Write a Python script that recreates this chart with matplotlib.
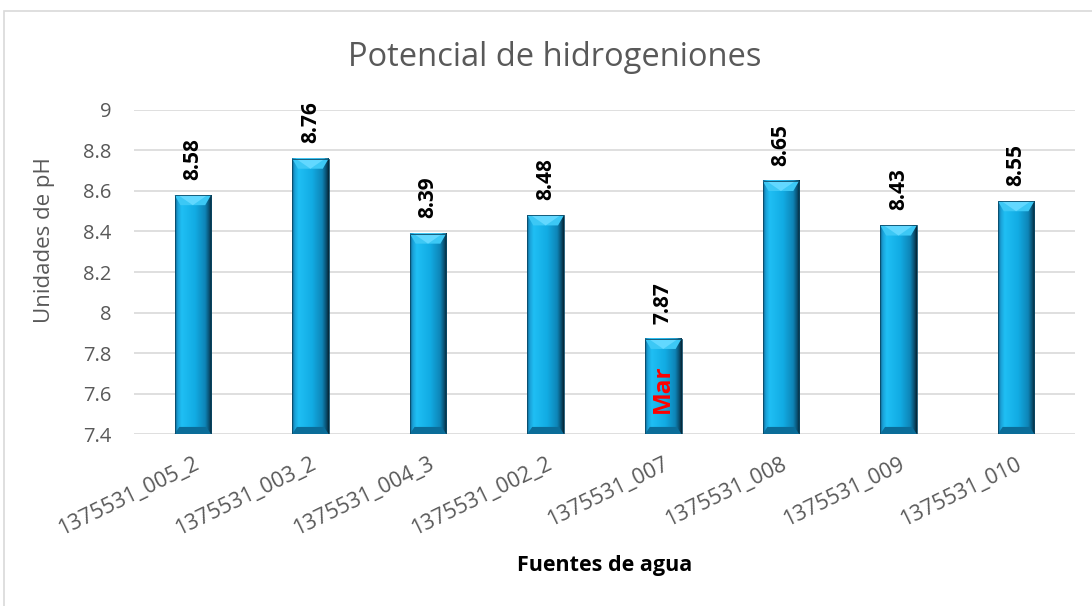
import numpy as np
import matplotlib.pyplot as plt
from matplotlib.colors import LinearSegmentedColormap
from matplotlib.patches import Rectangle, Polygon

# data
fuentes = ["1375531_005_2", "1375531_003_2", "1375531_004_3", "1375531_002_2",
           "1375531_007", "1375531_008", "1375531_009", "1375531_010"]
ph = [8.58, 8.76, 8.39, 8.48, 7.87, 8.65, 8.43, 8.55]
notas = {4: "Mar"}
nota_y = 7.625

y_min, y_max = 7.4, 9.0
y_ticks = [7.4, 7.6, 7.8, 8.0, 8.2, 8.4, 8.6, 8.8, 9.0]
y_tick_labels = ["7.4", "7.6", "7.8", "8", "8.2", "8.4", "8.6", "8.8", "9"]

GRAY = "#595959"
plt.rcParams['font.family'] = ['Open Sans', 'DejaVu Sans']

fig = plt.figure(figsize=(10.92, 6.06), dpi=100)
ax = fig.add_axes([0.1227, 0.2838, 0.8617, 0.5347])

# outer chart frame (cut off at right and bottom like the source)
fig.patches.append(Rectangle((3.5 / 1092, -0.1), 1.2, 1.1 - 10.5 / 606,
                             transform=fig.transFigure, fill=False,
                             edgecolor="#d9d9d9", linewidth=1.2, zorder=0))

bar_cmap = LinearSegmentedColormap.from_list("bevel", [
    (0.0, "#0f5f88"), (0.07, "#1a9fd6"), (0.18, "#1fbff4"),
    (0.55, "#12abe3"), (0.82, "#0e85b7"), (0.93, "#0a4f70"), (1.0, "#052433")])
grad = np.linspace(0, 1, 200).reshape(1, -1)

w = 0.31
bevel = 0.05
x = np.arange(len(fuentes))
for i, v in zip(x, ph):
    l, r = i - w / 2, i + w / 2
    ax.imshow(grad, cmap=bar_cmap, extent=(l, r, y_min, v), aspect="auto",
              interpolation="bilinear", zorder=2)
    # top bevel: lighter chevron
    ax.add_patch(Polygon([(l, v), (r, v), (r - 0.05, v - bevel), (l + 0.05, v - bevel)],
                         closed=True, facecolor="#3cc8f5", edgecolor="none", zorder=3))
    ax.add_patch(Polygon([(l + 0.03, v), (r - 0.03, v), (i, v - bevel)],
                         closed=True, facecolor="#62d8ff", edgecolor="none", zorder=3))
    # bottom bevel: darker band
    ax.add_patch(Polygon([(l, y_min), (r, y_min), (r - 0.04, y_min + bevel * 0.7),
                          (l + 0.04, y_min + bevel * 0.7)],
                         closed=True, facecolor="#0b6d99", edgecolor="none", zorder=3))
    ax.add_patch(Rectangle((l, y_min), w, v - y_min, fill=False,
                           edgecolor="#0a4a68", linewidth=0.6, zorder=4))
    ax.text(i, v + 0.075, f"{v:.2f}", rotation=90, ha="center", va="bottom",
            fontsize=15, fontweight="bold", color="black", zorder=5)

for i, t in notas.items():
    ax.text(i, nota_y, t, rotation=90, ha="center", va="center",
            fontsize=17.5, fontweight="bold", color="red", zorder=5)

ax.set_xlim(-0.5, len(fuentes) - 0.5)
ax.set_ylim(y_min, y_max)
ax.set_yticks(y_ticks)
ax.set_yticklabels(y_tick_labels)
ax.set_xticks(x)
ax.set_xticklabels(fuentes, rotation=26, ha="right", rotation_mode="anchor")
ax.tick_params(axis="both", length=0, labelcolor=GRAY)
ax.tick_params(axis="y", pad=16, labelsize=14.5)
ax.tick_params(axis="x", pad=14, labelsize=15.5)
ax.grid(axis="y", color="#d9d9d9", linewidth=1.2, zorder=0)
ax.set_axisbelow(True)
for s in ax.spines.values():
    s.set_visible(False)

fig.text(555 / 1092, 1 - 57 / 606, "Potencial de hidrogeniones", fontsize=23.5,
         color=GRAY, ha="center", va="center")
ax.set_ylabel("Unidades de pH", fontsize=16, color=GRAY)
ax.yaxis.set_label_coords(-0.0946, 0.60)
ax.set_xlabel("Fuentes de agua", fontsize=15.5, fontweight="bold", color="black")
ax.xaxis.set_label_coords(0.5, (434 - 565) / 324)
ax.xaxis.label.set_va("center")
ax.yaxis.label.set_va("center")

fig.savefig("out.png", dpi=100)
